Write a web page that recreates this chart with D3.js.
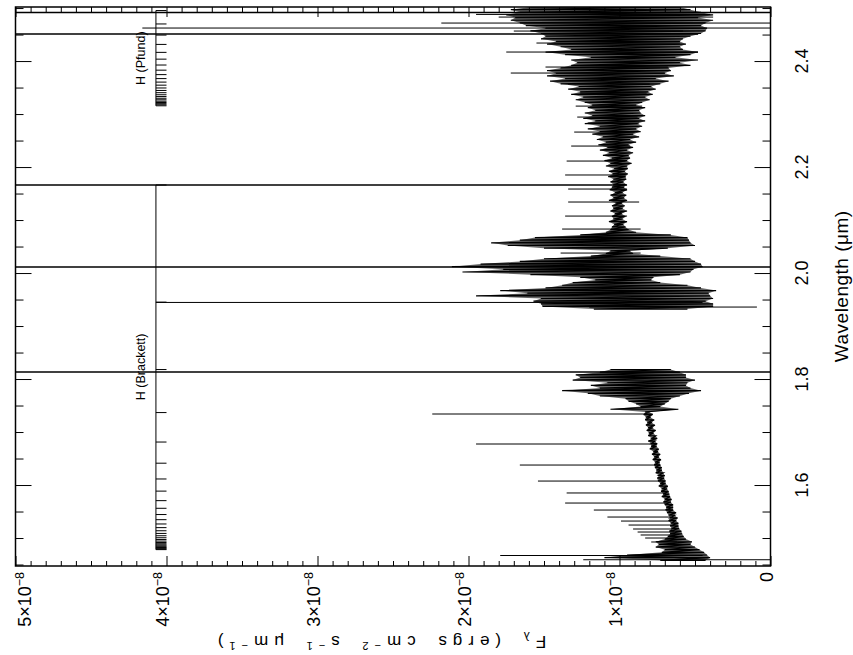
<!DOCTYPE html>
<html>
<head>
<meta charset="utf-8">
<script src="https://cdn.jsdelivr.net/npm/d3@7"></script>
<style>
  body { margin: 0; background: #fff; }
  svg { display: block; font-family: "Liberation Sans", Arial, Helvetica, sans-serif; }
</style>
</head>
<body>
<svg id="chart" width="853" height="655"></svg>
<script>
// flux in units of 1e-8 ergs cm^-2 s^-1 um^-1, wavelength in um
// the trace is read as a low / high envelope per sample (the noise is denser than the pixels)

// short side of the telluric gap
const waveA = [1.458, 1.463, 1.468, 1.473, 1.478, 1.483, 1.488, 1.493, 1.498, 1.503, 1.508, 1.513, 1.518, 1.523, 1.528,
  1.533, 1.538, 1.543, 1.548, 1.553, 1.558, 1.563, 1.568, 1.573, 1.578, 1.583, 1.588, 1.593, 1.598, 1.603, 1.608,
  1.613, 1.618, 1.623, 1.628, 1.633, 1.638, 1.643, 1.648, 1.653, 1.658, 1.663, 1.668, 1.673, 1.678, 1.683, 1.688,
  1.693, 1.698, 1.703, 1.708, 1.713, 1.718, 1.723, 1.728, 1.733, 1.738, 1.743, 1.748, 1.753, 1.758, 1.763, 1.768,
  1.773, 1.778, 1.783, 1.788, 1.793, 1.798, 1.803, 1.808, 1.813, 1.818]
const loA = [0.43, 0.40, 0.42, 0.44, 0.47, 0.50, 0.53, 0.52, 0.56, 0.575, 0.585, 0.59, 0.605, 0.61, 0.61,
  0.625, 0.615, 0.635, 0.625, 0.645, 0.645, 0.645, 0.66, 0.655, 0.665, 0.67, 0.675, 0.685, 0.68, 0.695, 0.695,
  0.705, 0.70, 0.71, 0.72, 0.72, 0.73, 0.735, 0.725, 0.74, 0.73, 0.745, 0.74, 0.755, 0.75, 0.765, 0.75,
  0.76, 0.775, 0.76, 0.78, 0.765, 0.785, 0.77, 0.795, 0.78, 0.80, 0.61, 0.73, 0.70, 0.675, 0.66, 0.60,
  0.54, 0.46, 0.53, 0.56, 0.55, 0.50, 0.56, 0.56, 0.60, 0.66]
const hiA = [0.73, 1.10, 0.95, 0.72, 0.70, 0.76, 0.74, 0.76, 0.70, 0.68, 0.665, 0.67, 0.655, 0.665, 0.66,
  0.675, 0.665, 0.675, 0.685, 0.695, 0.69, 0.70, 0.71, 0.70, 0.72, 0.71, 0.725, 0.72, 0.74, 0.73, 0.745,
  0.75, 0.74, 0.76, 0.755, 0.765, 0.77, 0.765, 0.78, 0.77, 0.785, 0.775, 0.80, 0.79, 0.79, 0.81, 0.785,
  0.81, 0.805, 0.82, 0.81, 0.825, 0.815, 0.83, 0.825, 0.84, 0.83, 1.06, 0.86, 0.89, 0.94, 0.96, 1.13,
  1.21, 1.38, 1.13, 1.19, 1.08, 1.31, 1.26, 1.29, 1.13, 1.06]

// long side of the gap
const waveB = [1.932, 1.937, 1.942, 1.947, 1.952, 1.957, 1.962, 1.967, 1.972, 1.977, 1.982, 1.987, 1.992, 1.997,
  2.002, 2.007, 2.012, 2.017, 2.022, 2.027, 2.032, 2.037, 2.042, 2.047, 2.052, 2.057, 2.062, 2.067, 2.072, 2.077,
  2.082, 2.087, 2.092, 2.097, 2.102, 2.107, 2.112, 2.117, 2.122, 2.127, 2.132, 2.137, 2.142, 2.147, 2.152, 2.157,
  2.162, 2.167, 2.172, 2.177, 2.182, 2.187, 2.192, 2.197, 2.202, 2.207, 2.212, 2.217, 2.222, 2.227, 2.232, 2.237,
  2.242, 2.247, 2.252, 2.257, 2.262, 2.267, 2.272, 2.277, 2.282, 2.287, 2.292, 2.297, 2.302, 2.307, 2.312, 2.317,
  2.322, 2.327, 2.332, 2.337, 2.342, 2.347, 2.352, 2.357, 2.362, 2.367, 2.372, 2.377, 2.382, 2.387, 2.392, 2.397,
  2.402, 2.407, 2.412, 2.417, 2.422, 2.427, 2.432, 2.437, 2.442, 2.447, 2.452, 2.457, 2.462, 2.467, 2.472, 2.477,
  2.482, 2.487, 2.492, 2.497, 2.502]
const loB = [0.55, 0.38, 0.38, 0.43, 0.38, 0.40, 0.41, 0.36, 0.46, 0.55, 0.73, 0.79, 0.775, 0.60,
  0.53, 0.51, 0.45, 0.46, 0.50, 0.53, 0.73, 0.91, 0.93, 0.68, 0.50, 0.53, 0.54, 0.55, 0.66, 0.89,
  0.94, 0.96, 0.975, 0.95, 0.98, 0.96, 0.985, 0.95, 0.98, 0.965, 0.985, 0.95, 0.97, 0.955, 0.98, 0.95,
  0.97, 0.955, 0.975, 0.955, 0.96, 0.945, 0.965, 0.945, 0.95, 0.92, 0.95, 0.93, 0.94, 0.91, 0.95, 0.91,
  0.94, 0.89, 0.93, 0.87, 0.91, 0.86, 0.89, 0.85, 0.88, 0.83, 0.87, 0.83, 0.86, 0.87, 0.83, 0.89,
  0.85, 0.80, 0.83, 0.78, 0.81, 0.76, 0.79, 0.73, 0.675, 0.76, 0.64, 0.70, 0.66, 0.675, 0.53, 0.60,
  0.48, 0.63, 0.53, 0.48, 0.58, 0.60, 0.56, 0.60, 0.58, 0.53, 0.46, 0.43, 0.42, 0.46, 0.43, 0.38,
  0.48, 0.38, 0.46, 0.53, 0.60]
const hiB = [1.17, 1.51, 1.52, 1.57, 1.52, 1.95, 1.61, 1.79, 1.49, 1.38, 1.31, 1.16, 1.26, 1.59,
  2.04, 1.77, 2.11, 1.92, 1.66, 1.50, 1.19, 1.09, 1.06, 1.50, 1.74, 1.85, 1.66, 1.56, 1.26, 1.09,
  1.06, 1.05, 1.035, 1.07, 1.04, 1.05, 1.03, 1.06, 1.04, 1.05, 1.025, 1.07, 1.04, 1.06, 1.03, 1.065,
  1.05, 1.04, 1.06, 1.04, 1.075, 1.045, 1.07, 1.035, 1.09, 1.06, 1.10, 1.05, 1.11, 1.07, 1.13, 1.08,
  1.14, 1.09, 1.15, 1.11, 1.18, 1.13, 1.21, 1.13, 1.23, 1.16, 1.24, 1.18, 1.23, 1.16, 1.21, 1.18,
  1.23, 1.29, 1.24, 1.32, 1.26, 1.34, 1.27, 1.39, 1.46, 1.36, 1.48, 1.42, 1.48, 1.39, 1.32, 1.28,
  1.32, 1.19, 1.36, 1.49, 1.32, 1.39, 1.48, 1.42, 1.52, 1.49, 1.52, 1.59, 1.49, 1.62, 1.66, 1.72,
  1.69, 1.75, 1.66, 1.72, 1.59]

// single bad pixels: wavelength, right end, left end of the spike
const spikeWave = [1.459, 1.467, 1.4925, 1.500, 1.5057, 1.5113, 1.517, 1.5245, 1.532, 1.5396, 1.5528, 1.566, 1.585,
  1.6075, 1.6377, 1.6774, 1.734, 1.8132, 1.9358, 1.9445, 2.0113, 2.0377, 2.083, 2.1075, 2.134, 2.1585, 2.166,
  2.185, 2.2113, 2.2396, 2.266, 2.283, 2.2943, 2.315, 2.3396, 2.3566, 2.3774, 2.3887, 2.417, 2.434, 2.451,
  2.4566, 2.4623, 2.4717, 2.483, 2.488, 2.4915]
const spikeLo = [-0.2, 0.45, 0.62, 0.64, 0.64, 0.64, 0.65, 0.66, 0.66, 0.66, 0.66, 0.68, 0.69,
  0.71, 0.73, 0.76, 0.78, -0.2, 0.09, 0.45, -0.2, 0.86, 0.86, 0.95, 0.87, 0.95, 0.95,
  0.96, 0.96, 0.93, 0.90, 0.87, 0.88, 0.85, 0.82, 0.80, 0.70, 0.68, 0.48, 0.60, 0.48,
  0.58, -0.2, -0.2, 0.38, 0.40, -0.2]
const spikeHi = [1.24, 1.79, 0.79, 0.83, 0.86, 0.88, 0.91, 0.94, 0.99, 1.08, 1.17, 1.36, 1.35,
  1.54, 1.66, 1.95, 2.24, 5.5, 1.2, 4.07, 5.5, 1.39, 1.38, 1.36, 1.34, 1.34, 5.5,
  1.36, 1.35, 1.32, 1.30, 1.21, 1.28, 1.29, 1.26, 1.34, 1.72, 1.49, 1.75, 1.55, 5.5,
  1.70, 4.16, 2.18, 1.80, 1.95, 5.5]

// hydrogen series markers (Brackett n=7..35, Pfund n=17..40), um
const brackettLines = [2.1661, 1.9451, 1.8179, 1.7367, 1.6811, 1.6412, 1.6114, 1.5885, 1.5705, 1.5561, 1.5443,
  1.5346, 1.5265, 1.5196, 1.5137, 1.5087, 1.5043, 1.5005, 1.4971, 1.4942, 1.4916, 1.4892, 1.4871, 1.4852,
  1.4835, 1.4820, 1.4806, 1.4793, 1.4781]
const pfundLines = [2.4953, 2.4700, 2.4490, 2.4314, 2.4164, 2.4036, 2.3925, 2.3828, 2.3744, 2.3669, 2.3603,
  2.3545, 2.3492, 2.3445, 2.3403, 2.3364, 2.3330, 2.3298, 2.3269, 2.3242, 2.3218, 2.3196, 2.3175, 2.3156]
const markerFlux = 4.07

const fluxTicks = [0, 1, 2, 3, 4, 5]
const waveTicks = [1.6, 1.8, 2.0, 2.2, 2.4]
const waveMinor = [1.45, 1.5, 1.55, 1.65, 1.7, 1.75, 1.85, 1.9, 1.95, 2.05, 2.1, 2.15, 2.25, 2.3, 2.35, 2.45, 2.5]

const svg = d3.select('#chart')

// flux runs right to left, wavelength bottom to top (the plot is turned on its side)
const x = d3.scaleLinear().domain([0, 5]).range([770.5, 15.5])
const y = d3.scaleLinear().domain([1.4472, 2.502]).range([566, 7])

svg.append('clipPath').attr('id', 'plotArea')
  .append('rect')
  .attr('x', x(5)).attr('y', y(2.502))
  .attr('width', x(0) - x(5)).attr('height', y(1.4472) - y(2.502))

const plot = svg.append('g').attr('clip-path', 'url(#plotArea)')
const line = d3.line().x(d => x(d[1])).y(d => y(d[0]))
const band = d3.area().y(d => y(d[0])).x0(d => x(d[1])).x1(d => x(d[2]))

// trace: shaded noise band, then low -> high at every sample
const segments = [[waveA, loA, hiA], [waveB, loB, hiB]]
segments.forEach(([wave, lo, hi]) => {
  plot.append('path')
    .attr('d', band(wave.map((w, i) => [w, lo[i], hi[i]])))
    .attr('fill', 'black')
    .attr('fill-opacity', 0.6)
  plot.append('path')
    .attr('d', line(wave.flatMap((w, i) => [[w, lo[i]], [w, hi[i]]])))
    .attr('fill', 'none')
    .attr('stroke', 'black')
    .attr('stroke-width', 1.2)
})

plot.append('g')
  .selectAll('path')
  .data(spikeWave)
  .join('path')
    .attr('d', (w, i) => line([[w, spikeLo[i]], [w, spikeHi[i]]]))
    .attr('fill', 'none')
    .attr('stroke', 'black')
    .attr('stroke-width', (w, i) => spikeHi[i] > 5 ? 1.6 : 1)

// series markers
const drawSeries = (lines, label, labelWave) => {
  const g = svg.append('g').attr('stroke', 'black').attr('stroke-width', 1)
  g.append('path')
    .attr('d', line([[lines[0], markerFlux], [lines[lines.length - 1], markerFlux]]))
  g.selectAll('.mark')
    .data(lines)
    .join('path')
      .attr('class', 'mark')
      .attr('d', w => line([[w, markerFlux], [w, 4.0]]))
  svg.append('text')
    .attr('transform', `translate(${x(4.145)},${y(labelWave)}) rotate(-90)`)
    .attr('font-size', 12.5)
    .text(label)
}
drawSeries(brackettLines, 'H (Brackett)', 1.760)
drawSeries(pfundLines, 'H (Pfund)', 2.355)

// axes, ticks pointing inwards on all four sides
const minorFlux = d3.range(1, 50).filter(v => v % 10 !== 0).map(v => v / 10)
const addAxis = (axis, transform, values, size) => {
  svg.append('g')
    .attr('transform', transform)
    .call(axis.tickValues(values).tickSize(size).tickFormat(''))
    .call(g => g.select('.domain').remove())
}
addAxis(d3.axisBottom(x), `translate(0,${y(1.4472)})`, fluxTicks, -10)
addAxis(d3.axisBottom(x), `translate(0,${y(1.4472)})`, minorFlux, -5)
addAxis(d3.axisTop(x), `translate(0,${y(2.502)})`, fluxTicks, -10)
addAxis(d3.axisTop(x), `translate(0,${y(2.502)})`, minorFlux, -5)
addAxis(d3.axisLeft(y), `translate(${x(5)},0)`, waveTicks, -16)
addAxis(d3.axisLeft(y), `translate(${x(5)},0)`, waveMinor, -8)
addAxis(d3.axisRight(y), `translate(${x(0)},0)`, waveTicks, -16)
addAxis(d3.axisRight(y), `translate(${x(0)},0)`, waveMinor, -8)

svg.append('rect')
  .attr('x', x(5)).attr('y', y(2.502))
  .attr('width', x(0) - x(5)).attr('height', y(1.4472) - y(2.502))
  .attr('fill', 'none')
  .attr('stroke', 'black')
  .attr('stroke-width', 1.5)

// tick labels
const fluxLabels = svg.append('g')
  .selectAll('text')
  .data(fluxTicks)
  .join('text')
    .attr('transform', d => `translate(${d === 5 ? 31 : x(d) + 2},572) rotate(-90)`)
    .attr('text-anchor', 'end')
    .attr('font-size', 18)
fluxLabels.append('tspan').text(d => d === 0 ? '0' : d + '×10')
fluxLabels.filter(d => d > 0).append('tspan').attr('dy', -7).attr('font-size', 12.5).text('−8')

svg.append('g')
  .selectAll('text')
  .data(waveTicks)
  .join('text')
    .attr('transform', d => `translate(808,${y(d)}) rotate(-90)`)
    .attr('text-anchor', 'middle')
    .attr('font-size', 18)
    .text(d => d.toFixed(1))

// axis titles
svg.append('text')
  .attr('transform', `translate(848,${y(1.975)}) rotate(-90)`)
  .attr('text-anchor', 'middle')
  .attr('font-size', 19)
  .attr('letter-spacing', 0.5)
  .text('Wavelength (μm)')

const fluxTitle = svg.append('text')
  .attr('transform', `translate(${x(2.5) - 14},636) rotate(180)`)
  .attr('text-anchor', 'middle')
  .attr('font-size', 17)
  .attr('letter-spacing', 6)
  .attr('word-spacing', 6)
const titleParts = [['F', 0, 17], ['λ', 4, 12], [' (ergs cm', -4, 17], ['−2', -6, 11], [' s', 6, 17],
  ['−1', -6, 11], [' μm', 6, 17], ['−1', -6, 11], [')', 6, 17]]
titleParts.forEach(([t, dy, size]) => {
  fluxTitle.append('tspan').attr('dy', dy).attr('font-size', size).text(t)
})
</script>
</body>
</html>
